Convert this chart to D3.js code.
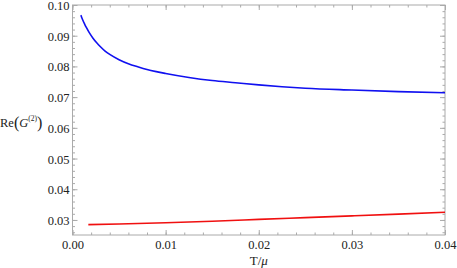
<!DOCTYPE html>
<html lang="en">

<head>
  <meta charset="UTF-8">
  <title>Re G2</title>
  <style>
    body { margin: 0; background: #fff; }
    svg { display: block; }
    .tick line { stroke: #aaa; }
    .domain { display: none; }
  </style>
</head>

<body>
  <script src="https://cdnjs.cloudflare.com/ajax/libs/d3/7.8.5/d3.min.js"></script>
  <script>
    // blue curve
    let blueT = [0.0009, 0.0011, 0.0013, 0.0015, 0.0018, 0.0022, 0.0026, 0.003, 0.0035, 0.004, 0.005, 0.006, 0.007,
      0.008, 0.009, 0.010, 0.0125, 0.015, 0.0175, 0.020, 0.0225, 0.025, 0.030, 0.035, 0.040]
    let blueVal = [0.0967, 0.0951, 0.0938, 0.0926, 0.0910, 0.0892, 0.0877, 0.0864, 0.0850, 0.0839, 0.0822, 0.0809, 0.0799,
      0.0790, 0.0783, 0.0777, 0.0764, 0.0754, 0.0747, 0.0740, 0.0734, 0.0729, 0.0723, 0.0718, 0.0714]

    // red curve
    let redT = [0.0017, 0.005, 0.010, 0.015, 0.020, 0.025, 0.030, 0.035, 0.040]
    let redVal = [0.02848, 0.02870, 0.02910, 0.02960, 0.03018, 0.03075, 0.03132, 0.03190, 0.03250]

    let xTicks = [0, 0.01, 0.02, 0.03, 0.04]
    let yTicks = [0.03, 0.04, 0.05, 0.06, 0.07, 0.08, 0.09, 0.10]

    let width = 457
    let height = 268
    let padding = { left: 72.5, right: 12, top: 5, bottom: 33 }
    let w = width - padding.left - padding.right
    let h = height - padding.top - padding.bottom
    let font = '"Liberation Serif", "Times New Roman", serif'

    let svg = d3.select('body')
      .append('svg')
      .attr('width', width)
      .attr('height', height)

    let g = svg.append('g')
      .attr('transform', `translate(${padding.left},${padding.top})`)

    let xScale = d3.scaleLinear().domain([0, 0.04]).range([0, w])
    let yScale = d3.scaleLinear().domain([0.0251, 0.10]).range([h, 0])

    let xMinor = d3.range(0, 0.0401, 0.002)
    let yMinor = d3.range(0.026, 0.1001, 0.002)

    // frame
    g.append('rect')
      .attr('width', w)
      .attr('height', h)
      .attr('fill', 'none')
      .attr('stroke', '#aaa')
      .attr('stroke-width', 1)

    // minor ticks on all sides
    g.append('g').attr('transform', `translate(0,${h})`)
      .call(d3.axisBottom(xScale).tickValues(xMinor).tickSize(-2.5).tickFormat(''))
    g.append('g')
      .call(d3.axisTop(xScale).tickValues(xMinor).tickSize(-2.5).tickFormat(''))
    g.append('g')
      .call(d3.axisLeft(yScale).tickValues(yMinor).tickSize(-2.5).tickFormat(''))
    g.append('g').attr('transform', `translate(${w},0)`)
      .call(d3.axisRight(yScale).tickValues(yMinor).tickSize(-2.5).tickFormat(''))

    // major ticks
    let xAxis = g.append('g').attr('transform', `translate(0,${h})`)
      .call(d3.axisBottom(xScale).tickValues(xTicks).tickSize(-5).tickPadding(5).tickFormat(d3.format('.2f')))
    g.append('g')
      .call(d3.axisTop(xScale).tickValues(xTicks).tickSize(-5).tickFormat(''))
    let yAxis = g.append('g')
      .call(d3.axisLeft(yScale).tickValues(yTicks).tickSize(-5).tickPadding(3).tickFormat(d3.format('.2f')))
    g.append('g').attr('transform', `translate(${w},0)`)
      .call(d3.axisRight(yScale).tickValues(yTicks).tickSize(-5).tickFormat(''))

    xAxis.selectAll('text').attr('font-family', font).attr('font-size', 12.5).attr('fill', '#222')
    yAxis.selectAll('text').attr('font-family', font).attr('font-size', 12.5).attr('fill', '#222')
      .attr('dy', '0.36em')

    let line = d3.line()
      .x(function (d) { return xScale(d[0]) })
      .y(function (d) { return yScale(d[1]) })
      .curve(d3.curveMonotoneX)

    g.append('path')
      .datum(d3.zip(blueT, blueVal))
      .attr('d', line)
      .attr('fill', 'none')
      .attr('stroke', '#1010f0')
      .attr('stroke-width', 1.6)

    g.append('path')
      .datum(d3.zip(redT, redVal))
      .attr('d', line)
      .attr('fill', 'none')
      .attr('stroke', '#f01010')
      .attr('stroke-width', 1.6)

    // axis labels
    let xl = svg.append('text')
      .attr('x', padding.left + w / 2)
      .attr('y', 265)
      .attr('text-anchor', 'middle')
      .attr('font-family', font)
      .attr('font-size', 13)
      .attr('fill', '#222')
    xl.append('tspan').text('T/')
    xl.append('tspan').attr('font-style', 'italic').text('μ')

    let yl = svg.append('text')
      .attr('x', 0)
      .attr('y', 127)
      .attr('font-family', font)
      .attr('font-size', 12.5)
      .attr('fill', '#222')
    yl.append('tspan').text('Re')
    yl.append('tspan').attr('font-size', 16).attr('dy', 1).text('(')
    yl.append('tspan').attr('font-style', 'italic').attr('dy', -1).text('G')
    yl.append('tspan').attr('font-size', 7.5).attr('dy', -6).text('(2)')
    yl.append('tspan').attr('font-size', 16).attr('dy', 7).text(')')
  </script>
</body>

</html>
